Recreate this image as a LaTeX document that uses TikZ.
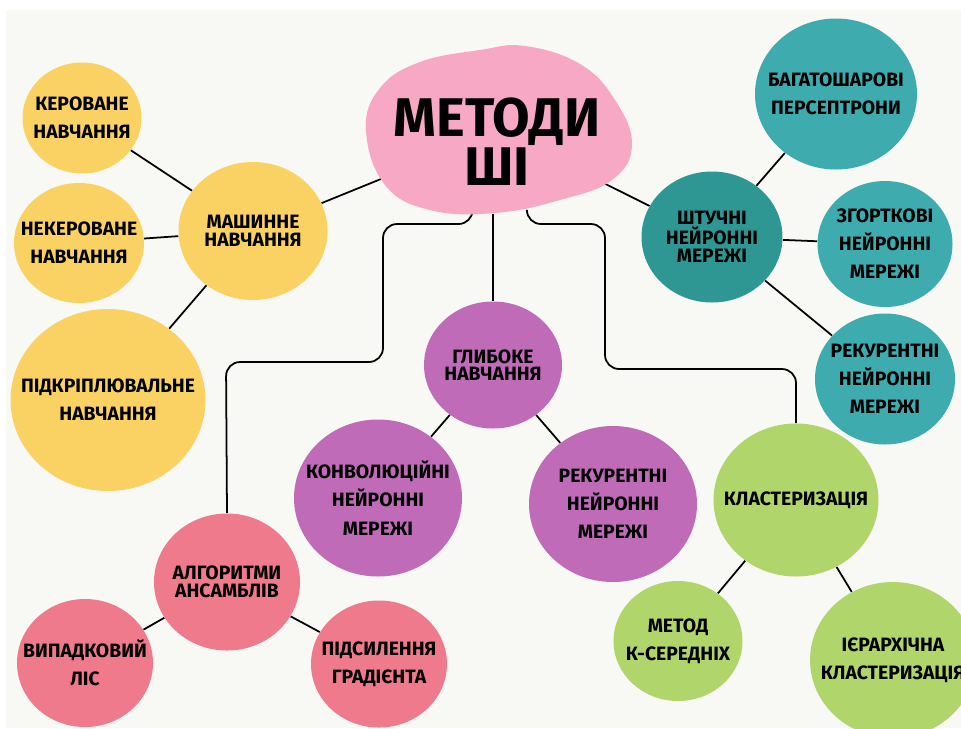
\documentclass[tikz,border=0pt]{standalone}
\usepackage{fontspec}
\setmainfont{Fira Sans}
\usetikzlibrary{shapes.geometric, calc}
\definecolor{bgcream}{RGB}{248,248,244}
\definecolor{sunyellow}{RGB}{250,210,100}
\definecolor{blobpink}{RGB}{247,168,197}
\definecolor{darkteal}{RGB}{46,151,148}
\definecolor{lightteal}{RGB}{62,172,174}
\definecolor{orchid}{RGB}{192,107,184}
\definecolor{rosered}{RGB}{238,122,139}
\definecolor{limegreen}{RGB}{176,214,107}
\pgfdeclarelayer{back}
\pgfsetlayers{back,main}

\begin{document}
\begin{tikzpicture}[x=0.02cm, y=-0.02cm,
    bub/.style 2 args={ellipse, inner sep=-30pt, align=center, text=black,
      minimum width=#1*0.02cm, minimum height=#2*0.02cm,
      font=\bfseries\fontsize{11}{16}\selectfont},
    tight/.style={font=\bfseries\fontsize{11}{10}\selectfont},
    link/.style={line width=1pt, black},
    elbow/.style={link, rounded corners=8pt}]
  \useasboundingbox (0,0) rectangle (961,728);

  % cream sheet
  \begin{pgfonlayer}{back}
    \fill[white] (0,0) rectangle (961,728);
    \fill[bgcream] (6,10) rectangle (961,728);
  \end{pgfonlayer}

  % title blob
  \fill[blobpink] plot[smooth cycle, tension=0.7] coordinates {
    (366,130) (380,88) (420,62) (480,50) (525,46) (580,64) (615,100)
    (632,145) (612,180) (560,200) (495,213) (430,210) (385,185)};
  \node[ellipse, minimum width=266*0.02cm, minimum height=165*0.02cm] (core) at (499,131) {};
  \node[font=\bfseries\fontsize{31}{28}\selectfont, align=center] (ttl) at (497,142) {МЕТОДИ\\ШІ};

  \begin{scope}
    \clip (6,10) rectangle (961,728);
    % machine learning
    \node[bub={149}{138}, tight, fill=sunyellow] (ml) at (253,231) {МАШИННЕ\\НАВЧАННЯ};
    \node[bub={119}{111}, fill=sunyellow] (sup) at (82,118) {КЕРОВАНЕ\\НАВЧАННЯ};
    \node[bub={130}{120}, fill=sunyellow] (unsup) at (79,243) {НЕКЕРОВАНЕ\\НАВЧАННЯ};
    \node[bub={195}{182}, fill=sunyellow] (rl) at (108,400) {ПІДКРІПЛЮВАЛЬНЕ\\НАВЧАННЯ};
    % neural networks
    \node[bub={141}{131}, tight, fill=darkteal] (ann) at (712,237) {ШТУЧНІ\\НЕЙРОННІ\\МЕРЕЖІ};
    \node[bub={162}{151}, fill=lightteal] (mlp) at (836,94) {БАГАТОШАРОВІ\\ПЕРСЕПТРОНИ};
    \node[bub={135}{126}, fill=lightteal] (cnn) at (885,244) {ЗГОРТКОВІ\\НЕЙРОННІ\\МЕРЕЖІ};
    \node[bub={140}{131}, fill=lightteal] (rnn) at (885,379) {РЕКУРЕНТНІ\\НЕЙРОННІ\\МЕРЕЖІ};
    % deep learning
    \node[bub={138}{127}, tight, fill=orchid] (dl) at (493,365) {ГЛИБОКЕ\\НАВЧАННЯ};
    \node[bub={168}{157}, fill=orchid] (conv) at (378,498) {КОНВОЛЮЦІЙНІ\\НЕЙРОННІ\\МЕРЕЖІ};
    \node[bub={168}{156}, fill=orchid] (rec) at (613,504) {РЕКУРЕНТНІ\\НЕЙРОННІ\\МЕРЕЖІ};
    % ensembles
    \node[bub={146}{137}, tight, fill=rosered] (ens) at (227,582) {АЛГОРИТМИ\\АНСАМБЛІВ};
    \node[bub={136}{128}, fill=rosered] (rf) at (85,663) {ВИПАДКОВИЙ\\ЛІС};
    \node[bub={136}{127}, fill=rosered] (gb) at (379,664) {ПІДСИЛЕННЯ\\ГРАДІЄНТА};
    % clustering
    \node[bub={165}{153}, fill=limegreen] (clu) at (796,500) {КЛАСТЕРИЗАЦІЯ};
    \node[bub={129}{120}, fill=limegreen] (km) at (678,641) {МЕТОД\\К-СЕРЕДНІХ};
    \node[bub={166}{156}, fill=limegreen] (hc) at (893,660) {ІЄРАРХІЧНА\\КЛАСТЕРИЗАЦІЯ};
  \end{scope}

  % links
  \begin{pgfonlayer}{back}
    \draw[link] (core) -- (ml);
    \draw[link] (ml) -- (sup);
    \draw[link] (ml) -- (unsup);
    \draw[link] (ml) -- (rl);
    \draw[link] (core) -- (ann);
    \draw[link] (ann) -- (mlp);
    \draw[link] (ann) -- (cnn);
    \draw[link] (ann) -- (rnn);
    \draw[link] (core.south -| dl.north) -- (dl.north);
    \draw[link] (dl) -- (conv);
    \draw[link] (dl) -- (rec);
    \draw[elbow] (core.-108) |- (383,224) |- (226,362) -- (ens.north);
    \draw[link] (ens) -- (rf);
    \draw[link] (ens) -- (gb);
    \draw[elbow] (core.-71) |- (605,224) |- (796,369) -- (clu.north);
    \draw[link] (clu) -- (km);
    \draw[link] (clu) -- (hc);
  \end{pgfonlayer}
\end{tikzpicture}
\end{document}
